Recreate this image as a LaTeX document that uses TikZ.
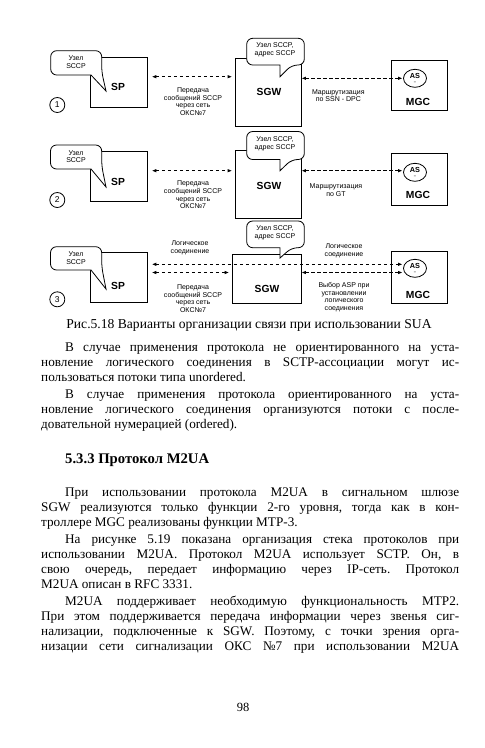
\documentclass[tikz,border=0pt]{standalone}
\usepackage{fontspec}
\setmainfont{Liberation Serif}
\newfontfamily\dsans{Liberation Sans}
\usetikzlibrary{arrows.meta,shapes.geometric}
\frenchspacing
\begin{document}
\begin{tikzpicture}[x=1pt,y=-1pt,
  box/.style={draw,line width=0.9pt,fill=white,inner sep=0pt},
  bub/.style={draw,line width=0.8pt,fill=white},
  lbl/.style={font=\dsans\fontsize{7}{7.6}\selectfont,align=center,inner sep=0pt},
  big/.style={font=\dsans\bfseries\fontsize{10.3}{10}\selectfont,inner sep=0pt},
  asn/.style={draw,ellipse,line width=0.8pt,minimum width=23pt,minimum height=18pt,inner sep=0pt,align=center,font=\dsans\bfseries\fontsize{7.3}{6}\selectfont},
  num/.style={draw,circle,line width=0.8pt,minimum size=15pt,inner sep=0pt,font=\dsans\fontsize{8.5}{8}\selectfont},
  darr/.style={line width=1pt,dash pattern=on 3.5pt off 2.5pt,{Latex[length=4.5pt,width=3.5pt]}-{Latex[length=4.5pt,width=3.5pt]}},
  body/.style={anchor=base west,inner sep=0pt,font=\fontsize{13.2}{15}\selectfont\frenchspacing},
]
\fill[white] (0,0) rectangle (485,748);
\useasboundingbox (0,0) rectangle (485,748);

% ---------- diagram 1 ----------
\node[box,minimum width=56.6pt,minimum height=50pt] (sp1) at (119,82.3) {};
\node[box,minimum width=65.3pt,minimum height=68.4pt] (sgw1) at (268.3,92.5) {};
\node[box,minimum width=56pt,minimum height=50pt] (mgc1) at (419,85) {};
\node[big] (sp1t) at (118,87) {SP};
\node[big] (sgw1t) at (269,91.7) {SGW};
\node[big] (mgc1t) at (418,101.7) {MGC};
\node[asn] (as1) at (415,78.3) {AS\\[-1pt]{\fontsize{4}{4}\selectfont –}};
\draw[bub] (76,50.7) [rounded corners=6pt] -- (101.7,50.7) -- (101.7,72) [sharp corners] -- (106,91) -- (91,75) [rounded corners=6pt] -- (50.7,75) -- (50.7,50.7) -- cycle;
\node[lbl] (b1) at (76,62) {Узел\\SCCP};
\draw[bub] (275,38.3) [rounded corners=6pt] -- (304.3,38.3) -- (304.3,65) -- (291.7,65) [sharp corners] -- (280,76.7) -- (280,65) [rounded corners=6pt] -- (246.7,65) -- (246.7,38.3) -- cycle;
\node[lbl] (g1) at (275,49.5) {Узел SCCP,\\адрес SCCP};
\node[num] (n1) at (57.3,105) {1};
\coordinate (l1) at (0,76.7);
\coordinate (r1) at (0,78.3);
\draw[darr,shorten <=4pt,shorten >=3pt] (sp1.east |- l1) -- (sgw1.west |- l1);
\draw[darr,shorten >=0.5pt] (sgw1.east |- r1) -- (as1.west |- r1);
\node[lbl] (m1) at (193,101.5) {Передача\\сообщений SCCP\\через сеть\\ОКС№7};
\node[lbl] (k1) at (338.3,95.5) {Маршрутизация\\по SSN - DPC};

% ---------- diagram 2 ----------
\node[box,minimum width=56.6pt,minimum height=50pt] (sp2) at (119,176.7) {};
\node[box,minimum width=65.3pt,minimum height=67.6pt] (sgw2) at (268.3,184.5) {};
\node[box,minimum width=56pt,minimum height=52pt] (mgc2) at (419,179) {};
\node[big] (sp2t) at (118,181.7) {SP};
\node[big] (sgw2t) at (269,186) {SGW};
\node[big] (mgc2t) at (418,195) {MGC};
\node[asn] (as2) at (415,172.3) {AS\\[-1pt]{\fontsize{4}{4}\selectfont –}};
\draw[bub] (76,145) [rounded corners=6pt] -- (101.7,145) -- (101.7,166) [sharp corners] -- (106,187) -- (91,169) [rounded corners=6pt] -- (50.5,169) -- (50.5,145) -- cycle;
\node[lbl] (b2) at (76,156.5) {Узел\\SCCP};
\draw[bub] (275,131.5) [rounded corners=6pt] -- (304.3,131.5) -- (304.3,159.5) -- (291.7,159.5) [sharp corners] -- (280,170.7) -- (280,159.5) [rounded corners=6pt] -- (246.7,159.5) -- (246.7,131.5) -- cycle;
\node[lbl] (g2) at (275,143.5) {Узел SCCP,\\адрес SCCP};
\node[num] (n2) at (57.3,200) {2};
\coordinate (l2) at (0,170.7);
\draw[darr,shorten <=4pt,shorten >=3pt] (sp2.east |- l2) -- (sgw2.west |- l2);
\draw[darr,shorten >=0.5pt] (sgw2.east |- l2) -- (as2.west |- l2);
\node[lbl] (m2) at (193,195) {Передача\\сообщений SCCP\\через сеть\\ОКС№7};
\node[lbl] (k2) at (336,190) {Маршрутизация\\по GT};

% ---------- diagram 3 ----------
\node[box,minimum width=56.6pt,minimum height=50.4pt] (sp3) at (119,277.5) {};
\node[box,minimum width=68.3pt,minimum height=49pt] (sgw3) at (266.8,278.8) {};
\node[box,minimum width=56pt,minimum height=52.3pt] (mgc3) at (419,277.2) {};
\node[big] (sp3t) at (118,285.7) {SP};
\node[big] (sgw3t) at (267,289) {SGW};
\node[big] (mgc3t) at (418,295) {MGC};
\node[asn] (as3) at (415,268.3) {AS\\[-1pt]{\fontsize{4}{4}\selectfont –}};
\draw[bub] (76,246.7) [rounded corners=6pt] -- (101.7,246.7) -- (101.7,267) [sharp corners] -- (106,289) -- (91,270) [rounded corners=6pt] -- (50.5,270) -- (50.5,246.7) -- cycle;
\node[lbl] (b3) at (76,258) {Узел\\SCCP};
\draw[bub] (275,221) [rounded corners=6pt] -- (304.3,221) -- (304.3,247.7) -- (291.7,247.7) [sharp corners] -- (280,258) -- (280,247.7) [rounded corners=6pt] -- (246.7,247.7) -- (246.7,221) -- cycle;
\node[lbl] (g3) at (275,232.5) {Узел SCCP,\\адрес SCCP};
\node[num] (n3) at (57.3,299.3) {3};
\coordinate (u3) at (0,264.3);
\coordinate (l3) at (0,272.5);
\draw[darr,shorten <=4pt,shorten >=0.5pt] (sp3.east |- u3) -- (as3.west |- u3);
\draw[darr,shorten <=4pt,shorten >=3pt] (sp3.east |- l3) -- (sgw3.west |- l3);
\draw[darr,shorten >=0.5pt] (sgw3.east |- l3) -- (as3.west |- l3);
\node[lbl] (q3) at (190,248) {Логическое\\соединение};
\node[lbl] (w3) at (344,250.5) {Логическое\\соединение};
\node[lbl] (m3) at (193,298.7) {Передача\\сообщений SCCP\\через сеть\\ОКС№7};
\node[lbl] (k3) at (344,297.3) {Выбор ASP при\\установлении\\логического\\соединения};

% ---------- caption ----------
\node[anchor=base,inner sep=0pt,font=\fontsize{13.6}{13}\selectfont] (cap) at (249,328) {Рис.5.18 Варианты организации связи при использовании SUA};

% ---------- text ----------
\node[body] (t1) at (65,351) {\makebox[394pt][s]{В случае применения протокола не ориентированного на уста-}};
\node[body] (t2) at (41,366) {\makebox[418pt][s]{новление логического соединения в SCTP-ассоциации могут ис-}};
\node[body] (t3) at (41,381) {пользоваться потоки типа unordered.};
\node[body] (t4) at (65,398) {\makebox[394pt][s]{В случае применения протокола ориентированного на уста-}};
\node[body] (t5) at (41,413) {\makebox[418pt][s]{новление логического соединения организуются потоки с после-}};
\node[body] (t6) at (41,428) {довательной нумерацией (ordered).};
\node[body,font=\bfseries\fontsize{14.7}{15}\selectfont] (h1) at (65,463) {5.3.3 Протокол M2UA};
\node[body] (t7) at (65,496) {\makebox[394pt][s]{При использовании протокола M2UA в сигнальном шлюзе}};
\node[body] (t8) at (41,511) {\makebox[418pt][s]{SGW реализуются только функции 2-го уровня, тогда как в кон-}};
\node[body] (t9) at (41,526) {троллере MGC реализованы функции MTP-3.};
\node[body] (t10) at (65,543) {\makebox[394pt][s]{На рисунке 5.19 показана организация стека протоколов при}};
\node[body] (t11) at (41,558) {\makebox[418pt][s]{использовании M2UA. Протокол M2UA использует SCTP. Он, в}};
\node[body] (t12) at (41,573) {\makebox[418pt][s]{свою очередь, передает информацию через IP-сеть. Протокол}};
\node[body] (t13) at (41,588) {M2UA описан в RFC 3331.};
\node[body] (t14) at (65,605) {\makebox[394pt][s]{M2UA поддерживает необходимую функциональность MTP2.}};
\node[body] (t15) at (41,620) {\makebox[418pt][s]{При этом поддерживается передача информации через звенья сиг-}};
\node[body] (t16) at (41,635) {\makebox[418pt][s]{нализации, подключенные к SGW. Поэтому, с точки зрения орга-}};
\node[body] (t17) at (41,650) {\makebox[418pt][s]{низации сети сигнализации ОКС №7 при использовании M2UA}};
\node[anchor=base,inner sep=0pt,font=\fontsize{12.5}{12}\selectfont] (pg) at (243,711) {98};
\end{tikzpicture}
\end{document}
